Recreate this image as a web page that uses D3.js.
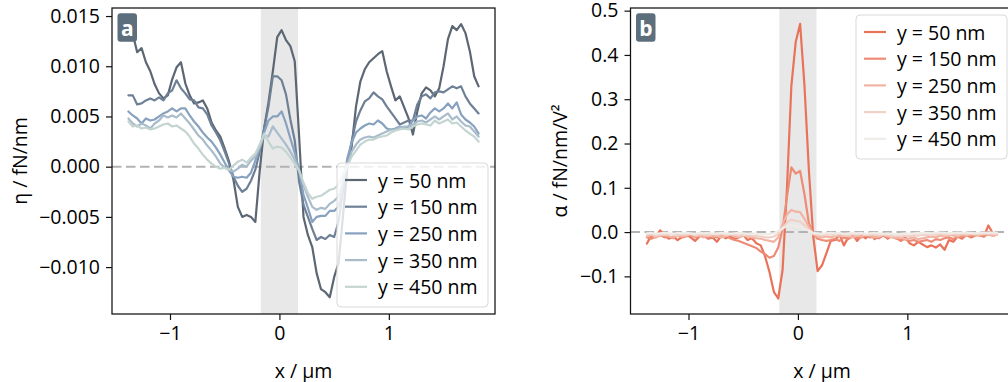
<!DOCTYPE html>
<html><head><meta charset="utf-8">
<script src="https://cdn.jsdelivr.net/npm/d3@7"></script>
<style>body{margin:0;background:#fff} svg text{font-family:"Open Sans","Noto Sans",sans-serif;fill:#000}</style>
</head><body><svg id="c" width="1008" height="382"></svg>
<script>
// ---------- data ----------
const xValues=[-1.38,-1.34,-1.30,-1.26,-1.22,-1.18,-1.14,-1.10,-1.06,-1.02,-0.98,-0.94,-0.90,-0.86,-0.82,-0.78,-0.74,-0.70,-0.66,-0.62,-0.58,-0.54,-0.50,-0.46,-0.42,-0.38,-0.34,-0.30,-0.26,-0.22,-0.18,-0.14,-0.10,-0.06,-0.02,0.02,0.06,0.10,0.14,0.18,0.22,0.26,0.30,0.34,0.38,0.42,0.46,0.50,0.54,0.58,0.62,0.66,0.70,0.74,0.78,0.82,0.86,0.90,0.94,0.98,1.02,1.06,1.10,1.14,1.18,1.22,1.26,1.30,1.34,1.38,1.42,1.46,1.50,1.54,1.58,1.62,1.66,1.70,1.74,1.78,1.82];
const seriesLabels=["y = 50 nm","y = 150 nm","y = 250 nm","y = 350 nm","y = 450 nm"];

const eta50=[0.0135,0.0132,0.0114,0.0118,0.0104,0.0095,0.0082,0.0073,0.0068,0.0071,
0.0087,0.0099,0.0104,0.0083,0.0071,0.0063,0.0064,0.0066,0.0058,0.0044,
0.0036,0.0030,0.0018,0.0005,-0.0013,-0.0040,-0.0050,-0.0048,-0.0050,-0.0055,
-0.0004,0.0038,0.0064,0.0095,0.0129,0.0136,0.0126,0.0120,0.0105,0.0030,
-0.0050,-0.0068,-0.0080,-0.0106,-0.0122,-0.0125,-0.0130,-0.0110,-0.0096,-0.0050,
-0.0002,0.0020,0.0060,0.0085,0.0097,0.0104,0.0108,0.0112,0.0115,0.0095,
0.0080,0.0066,0.0070,0.0059,0.0048,0.0032,0.0055,0.0073,0.0079,0.0076,
0.0070,0.0078,0.0100,0.0127,0.0140,0.0136,0.0142,0.0133,0.0115,0.0090,
0.0080];
const eta150=[0.0071,0.0071,0.0062,0.0063,0.0066,0.0068,0.0066,0.0069,0.0066,0.0073,
0.0076,0.0086,0.0078,0.0073,0.0067,0.0066,0.0059,0.0058,0.0052,0.0041,
0.0034,0.0026,0.0015,0.0003,-0.0010,-0.0019,-0.0025,-0.0022,-0.0014,-0.0003,
0.0015,0.0038,0.0060,0.0090,0.0090,0.0086,0.0072,0.0047,0.0026,-0.0015,
-0.0038,-0.0050,-0.0062,-0.0073,-0.0070,-0.0072,-0.0068,-0.0070,-0.0055,-0.0025,
0.0002,0.0025,0.0045,0.0056,0.0065,0.0068,0.0074,0.0070,0.0067,0.0060,
0.0054,0.0048,0.0042,0.0044,0.0046,0.0046,0.0062,0.0070,0.0072,0.0068,
0.0074,0.0075,0.0074,0.0077,0.0080,0.0078,0.0080,0.0070,0.0063,0.0058,
0.0053];
const eta250=[0.0055,0.0051,0.0048,0.0043,0.0048,0.0046,0.0047,0.0050,0.0053,0.0055,
0.0058,0.0055,0.0058,0.0058,0.0051,0.0045,0.0040,0.0034,0.0029,0.0025,
0.0019,0.0012,0.0004,-0.0004,-0.0010,-0.0011,-0.0010,-0.0011,-0.0006,0.0006,
0.0018,0.0034,0.0046,0.0050,0.0050,0.0055,0.0043,0.0028,0.0014,-0.0004,
-0.0028,-0.0041,-0.0055,-0.0050,-0.0049,-0.0049,-0.0044,-0.0044,-0.0040,-0.0020,
0.0008,0.0024,0.0034,0.0038,0.0041,0.0043,0.0042,0.0046,0.0043,0.0038,
0.0037,0.0038,0.0040,0.0038,0.0040,0.0046,0.0050,0.0051,0.0048,0.0054,
0.0058,0.0055,0.0058,0.0063,0.0058,0.0064,0.0052,0.0047,0.0044,0.0040,
0.0033];
const eta350=[0.0048,0.0043,0.0040,0.0043,0.0041,0.0038,0.0043,0.0046,0.0051,0.0049,
0.0051,0.0049,0.0053,0.0048,0.0043,0.0037,0.0031,0.0027,0.0021,0.0016,
0.0010,0.0003,-0.0001,-0.0003,-0.0005,-0.0002,0.0002,0.0000,0.0006,0.0010,
0.0020,0.0031,0.0030,0.0040,0.0034,0.0028,0.0022,0.0015,0.0007,-0.0004,
-0.0018,-0.0030,-0.0040,-0.0043,-0.0041,-0.0042,-0.0037,-0.0034,-0.0030,-0.0015,
0.0001,0.0015,0.0022,0.0027,0.0029,0.0030,0.0029,0.0031,0.0033,0.0035,
0.0037,0.0037,0.0039,0.0040,0.0040,0.0042,0.0045,0.0046,0.0044,0.0047,
0.0050,0.0047,0.0050,0.0053,0.0047,0.0050,0.0045,0.0041,0.0040,0.0035,
0.0030];
const eta450=[0.0045,0.0040,0.0041,0.0038,0.0039,0.0037,0.0038,0.0040,0.0042,0.0043,
0.0040,0.0041,0.0038,0.0035,0.0030,0.0023,0.0018,0.0012,0.0007,0.0003,
0.0000,-0.0002,-0.0001,-0.0003,0.0001,0.0005,0.0007,0.0004,0.0009,0.0013,
0.0022,0.0033,0.0025,0.0018,0.0020,0.0019,0.0015,0.0009,0.0003,-0.0004,
-0.0016,-0.0026,-0.0032,-0.0030,-0.0029,-0.0026,-0.0023,-0.0022,-0.0018,-0.0008,
0.0000,0.0010,0.0016,0.0022,0.0025,0.0027,0.0027,0.0029,0.0030,0.0031,
0.0034,0.0036,0.0037,0.0038,0.0037,0.0040,0.0042,0.0043,0.0042,0.0041,
0.0046,0.0043,0.0045,0.0047,0.0043,0.0044,0.0040,0.0036,0.0033,0.0030,
0.0025];

const alpha50=[-0.026,-0.008,-0.012,0.004,-0.008,-0.015,-0.010,-0.018,-0.012,-0.005,
-0.012,-0.020,-0.010,-0.004,-0.015,-0.012,-0.022,-0.008,-0.014,-0.010,
-0.015,-0.012,-0.006,-0.018,-0.014,-0.025,-0.030,-0.055,-0.090,-0.135,
-0.150,-0.085,0.100,0.330,0.430,0.470,0.330,0.140,-0.010,-0.088,
-0.075,-0.048,-0.020,-0.018,-0.006,-0.030,-0.012,-0.005,-0.020,-0.008,
-0.014,-0.004,-0.016,-0.010,-0.006,-0.015,-0.008,-0.012,-0.020,-0.012,
-0.025,-0.030,-0.022,-0.028,-0.034,-0.030,-0.035,-0.028,-0.040,-0.018,
-0.022,-0.010,-0.015,-0.006,-0.012,-0.008,-0.004,-0.010,0.015,-0.002,
-0.004];
const alpha150=[-0.012,-0.015,-0.010,-0.006,-0.012,-0.010,-0.014,-0.008,-0.012,-0.010,
-0.006,-0.012,-0.008,-0.010,-0.014,-0.008,-0.012,-0.010,-0.006,-0.014,
-0.018,-0.020,-0.024,-0.028,-0.032,-0.036,-0.044,-0.050,-0.058,-0.054,
-0.035,0.008,0.080,0.146,0.132,0.138,0.085,0.020,-0.005,-0.015,
-0.018,-0.020,-0.018,-0.015,-0.020,-0.012,-0.016,-0.010,-0.014,-0.012,
-0.008,-0.012,-0.010,-0.014,-0.008,-0.012,-0.010,-0.015,-0.018,-0.016,
-0.020,-0.018,-0.022,-0.020,-0.018,-0.022,-0.016,-0.018,-0.014,-0.012,
-0.016,-0.010,-0.012,-0.008,-0.010,-0.006,-0.008,-0.010,-0.004,-0.008,
-0.006];
const alpha250=[-0.010,-0.006,-0.012,-0.008,-0.004,-0.010,-0.012,-0.006,-0.010,-0.008,
-0.004,-0.010,-0.008,-0.012,-0.006,-0.010,-0.008,-0.012,-0.010,-0.006,
-0.010,-0.012,-0.008,-0.010,-0.012,-0.014,-0.015,-0.018,-0.020,-0.022,
-0.012,0.018,0.040,0.050,0.046,0.045,0.030,0.012,-0.004,-0.010,
-0.012,-0.010,-0.012,-0.008,-0.010,-0.006,-0.010,-0.012,-0.008,-0.010,
-0.006,-0.008,-0.012,-0.010,-0.006,-0.010,-0.012,-0.014,-0.012,-0.016,
-0.014,-0.012,-0.016,-0.014,-0.012,-0.010,-0.012,-0.008,-0.010,-0.006,
-0.008,-0.010,-0.006,-0.008,-0.004,-0.008,-0.006,-0.004,-0.006,-0.008,
-0.006];
const alpha350=[-0.006,-0.004,-0.008,-0.005,-0.007,-0.004,-0.006,-0.008,-0.005,-0.006,
-0.004,-0.007,-0.005,-0.006,-0.008,-0.004,-0.006,-0.005,-0.007,-0.004,
-0.006,-0.008,-0.006,-0.007,-0.008,-0.009,-0.010,-0.012,-0.012,-0.010,
-0.004,0.010,0.022,0.028,0.025,0.024,0.015,0.005,-0.004,-0.006,
-0.008,-0.006,-0.005,-0.007,-0.004,-0.006,-0.008,-0.005,-0.006,-0.004,
-0.007,-0.006,-0.005,-0.008,-0.006,-0.007,-0.009,-0.008,-0.010,-0.008,
-0.009,-0.007,-0.008,-0.006,-0.007,-0.005,-0.006,-0.004,-0.006,-0.005,
-0.004,-0.006,-0.003,-0.005,-0.004,-0.003,-0.005,-0.004,-0.003,-0.004,
-0.005];
const alpha450=[-0.003,-0.002,-0.004,-0.003,-0.002,-0.003,-0.004,-0.002,-0.003,-0.002,
-0.003,-0.004,-0.002,-0.003,-0.002,-0.004,-0.003,-0.002,-0.003,-0.004,
-0.003,-0.002,-0.003,-0.004,-0.003,-0.004,-0.005,-0.005,-0.004,-0.002,
0.002,0.008,0.014,0.016,0.013,0.012,0.008,0.003,-0.002,-0.003,
-0.004,-0.003,-0.002,-0.003,-0.002,-0.004,-0.003,-0.002,-0.003,-0.002,
-0.004,-0.003,-0.002,-0.003,-0.004,-0.003,-0.004,-0.005,-0.004,-0.003,
-0.004,-0.003,-0.002,-0.003,-0.002,-0.003,-0.002,-0.001,-0.002,-0.003,
-0.002,-0.001,-0.002,-0.001,-0.002,-0.003,-0.002,-0.001,-0.002,-0.001,
-0.002];

const xTicks=[-1,0,1];
const etaTicks=[0.015,0.010,0.005,0.000,-0.005,-0.010];
const alphaTicks=[0.5,0.4,0.3,0.2,0.1,0.0,-0.1];
const shadeRange=[-0.17,0.17];
const etaColors=["#5c6774","#6e8096","#87a1bf","#a9bccc","#c4d5d1"];
const alphaColors=["#e9735a","#ee8b74","#f2b3a3","#f1d1c7","#efebe6"];

// ---------- drawing ----------
const svg=d3.select("#c");
const FS=19.5;
const minus=s=>s.replace("-","\u2212");

function panel(o){
  const g=svg.append("g");
  const x=d3.scaleLinear().domain([-1.53,1.97]).range([o.left,o.left+383]);
  const y=d3.scaleLinear().domain(o.yDomain).range([314,8]);
  const cid="clip"+o.badge;
  svg.append("clipPath").attr("id",cid).append("rect")
    .attr("x",o.left).attr("y",8).attr("width",383).attr("height",306);
  const plot=g.append("g").attr("clip-path",`url(#${cid})`);
  plot.append("rect").attr("x",x(shadeRange[0])).attr("y",8)
    .attr("width",x(shadeRange[1])-x(shadeRange[0])).attr("height",306).attr("fill","#e8e8e8");
  plot.append("line").attr("x1",o.left).attr("x2",o.left+383).attr("y1",y(0)).attr("y2",y(0))
    .attr("stroke","#b3b3b3").attr("stroke-width",2).attr("stroke-dasharray","9.5,4.5");
  const line=d3.line().x((d,i)=>x(xValues[i])).y(d=>y(d));
  o.series.forEach((s,k)=>{
    plot.append("path").attr("d",line(s)).attr("fill","none")
      .attr("stroke",o.colors[k]).attr("stroke-width",2.2)
      .attr("stroke-linejoin","round").attr("stroke-linecap","round");
  });
  // axes
  const xa=g.append("g").attr("transform","translate(0,314)")
    .call(d3.axisBottom(x).tickValues(xTicks).tickSize(6).tickPadding(6).tickFormat(d=>minus(String(d))));
  const ya=g.append("g").attr("transform",`translate(${o.left},0)`)
    .call(d3.axisLeft(y).tickValues(o.ticks).tickSize(6).tickPadding(6).tickFormat(d=>minus(d3.format(o.fmt)(Math.abs(d)<1e-12?0:d))));
  [xa,ya].forEach(a=>{
    a.select(".domain").remove();
    a.selectAll(".tick line").attr("stroke","#111").attr("stroke-width",1.2);
    a.selectAll(".tick text").attr("font-size",FS).attr("font-family","'Open Sans',sans-serif").attr("fill","#000");
  });
  // frame
  g.append("rect").attr("x",o.left).attr("y",8).attr("width",383).attr("height",306)
    .attr("fill","none").attr("stroke","#111").attr("stroke-width",1.25);
  // labels
  g.append("text").attr("x",o.left+191.5).attr("y",370).attr("text-anchor","middle")
    .attr("dominant-baseline","central").attr("font-size",FS).text("x / µm");
  g.append("text").attr("transform",`translate(${o.ylx},161) rotate(-90)`).attr("text-anchor","middle")
    .attr("dominant-baseline","central").attr("font-size",FS).text(o.ylabel);
  // badge
  g.append("rect").attr("x",o.left+5.5).attr("y",13.3).attr("width",19.5).attr("height",28.5)
    .attr("rx",3).attr("fill","#5d6f7c");
  g.append("text").attr("x",o.left+15.3).attr("y",27.5).attr("text-anchor","middle")
    .attr("dominant-baseline","central").attr("font-size",21).attr("font-weight","bold")
    .style("fill","#fff").text(o.badge);
  // legend
  const L=g.append("g").attr("transform",`translate(${o.legX},${o.legY})`);
  L.append("rect").attr("width",151).attr("height",144).attr("rx",4)
    .attr("fill","#fff").attr("fill-opacity",0.8).attr("stroke","#d9d9d9").attr("stroke-width",1);
  seriesLabels.forEach((lab,k)=>{
    const yy=17+k*26.7;
    L.append("line").attr("x1",8).attr("x2",30).attr("y1",yy).attr("y2",yy)
      .attr("stroke",o.colors[k]).attr("stroke-width",2.2);
    L.append("text").attr("x",41).attr("y",yy).attr("dominant-baseline","central")
      .attr("font-size",FS).text(lab);
  });
}

panel({left:112,yDomain:[-0.01467,0.0158],ticks:etaTicks,fmt:".3f",
  series:[eta50,eta150,eta250,eta350,eta450],colors:etaColors,
  badge:"a",ylabel:"η / fN/nm",ylx:19,legX:337,legY:163});
panel({left:630.5,yDomain:[-0.185,0.506],ticks:alphaTicks,fmt:".1f",
  series:[alpha50,alpha150,alpha250,alpha350,alpha450],colors:alphaColors,
  badge:"b",ylabel:"α / fN/nm/V²",ylx:559,legX:856,legY:15});
</script></body></html>
